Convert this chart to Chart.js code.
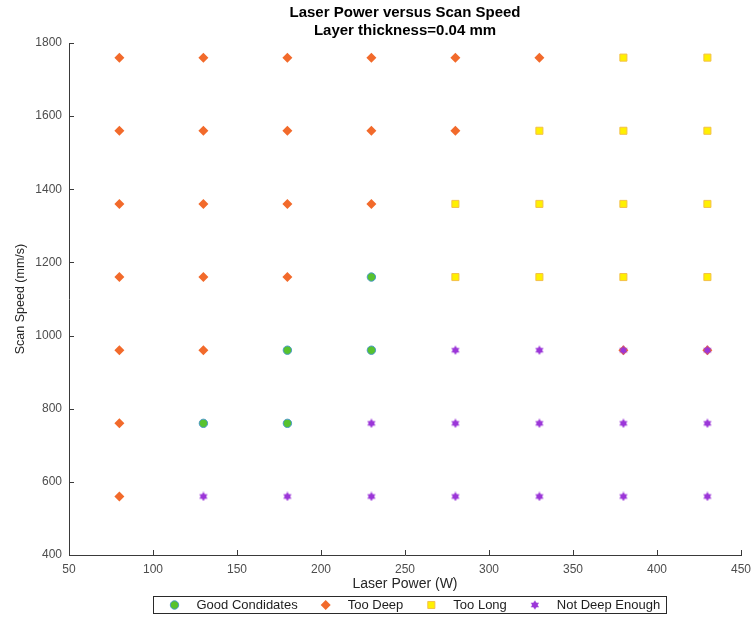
<!DOCTYPE html>
<html>
<head>
<meta charset="utf-8">
<script src="https://cdn.jsdelivr.net/npm/chart.js@4/dist/chart.umd.min.js"></script>
<style>
  html, body { margin: 0; padding: 0; background: #fff; }
  canvas { display: block; }
</style>
</head>
<body>
<canvas id="chart" width="752" height="617"></canvas>
<script>
// ---- chart data -------------------------------------------------------
const titleLines = ['Laser Power versus Scan Speed', 'Layer thickness=0.04 mm'];
const xTitle = 'Laser Power (W)';
const yTitle = 'Scan Speed (mm/s)';
const seriesNames = ['Good Condidates', 'Too Deep', 'Too Long', 'Not Deep Enough'];
const xRange = [50, 450];
const xStep = 50;
const yRange = [400, 1800];
const yStep = 200;

// each entry: [laser power (W), scan speed (mm/s)]
const goodCandidates = [
  [230, 1160], [180, 960], [230, 960], [130, 760], [180, 760]
];
const tooDeep = [
  [80, 1760], [130, 1760], [180, 1760], [230, 1760], [280, 1760], [330, 1760],
  [80, 1560], [130, 1560], [180, 1560], [230, 1560], [280, 1560],
  [80, 1360], [130, 1360], [180, 1360], [230, 1360],
  [80, 1160], [130, 1160], [180, 1160],
  [80, 960], [130, 960], [380, 960], [430, 960],
  [80, 760],
  [80, 560]
];
const tooLong = [
  [380, 1760], [430, 1760],
  [330, 1560], [380, 1560], [430, 1560],
  [280, 1360], [330, 1360], [380, 1360], [430, 1360],
  [280, 1160], [330, 1160], [380, 1160], [430, 1160]
];
const notDeepEnough = [
  [280, 960], [330, 960], [380, 960], [430, 960],
  [230, 760], [280, 760], [330, 760], [380, 760], [430, 760],
  [130, 560], [180, 560], [230, 560], [280, 560], [330, 560], [380, 560], [430, 560]
];

// ---- styling helpers --------------------------------------------------
const FONT = '"Liberation Sans", Arial, Helvetica, sans-serif';
const AXIS_COLOR = '#3a3a3a';

const toPoints = pairs => pairs.map(([x, y]) => ({ x, y }));
const plainNumber = v => String(v);

// filled six-pointed star used for the "Not Deep Enough" markers
function hexagram(size, fill) {
  const c = document.createElement('canvas');
  c.width = c.height = size;
  const g = c.getContext('2d');
  const cx = size / 2, cy = size / 2, R = size / 2 - 0.3;
  g.fillStyle = fill;
  for (let t = 0; t < 2; t++) {
    g.beginPath();
    for (let k = 0; k < 3; k++) {
      const a = -Math.PI / 2 + t * Math.PI + k * 2 * Math.PI / 3;
      const px = cx + R * Math.cos(a), py = cy + R * Math.sin(a);
      if (k === 0) g.moveTo(px, py); else g.lineTo(px, py);
    }
    g.closePath();
    g.fill();
  }
  return c;
}

const starMarker = hexagram(10, '#9b36d8');

// inward tick marks on the left and bottom axes
const innerTicks = {
  id: 'innerTicks',
  afterDatasetsDraw(chart) {
    const { ctx, chartArea: a, scales } = chart;
    const len = 5;
    ctx.save();
    ctx.strokeStyle = AXIS_COLOR;
    ctx.lineWidth = 1;
    ctx.beginPath();
    scales.x.ticks.forEach(t => {
      const px = Math.round(scales.x.getPixelForValue(t.value)) + 0.5;
      ctx.moveTo(px, a.bottom);
      ctx.lineTo(px, a.bottom - len);
    });
    scales.y.ticks.forEach(t => {
      const py = Math.round(scales.y.getPixelForValue(t.value)) + 0.5;
      ctx.moveTo(a.left, py);
      ctx.lineTo(a.left + len, py);
    });
    ctx.stroke();
    ctx.restore();
  }
};

// boxed horizontal legend under the axis title
const boxedLegend = {
  id: 'boxedLegend',
  afterDraw(chart) {
    const { ctx, chartArea: a } = chart;
    const datasets = chart.data.datasets;
    ctx.save();
    ctx.font = '13px ' + FONT;
    const widths = datasets.map(ds => ctx.measureText(ds.label).width);
    const lead = 21, gap = 22, sep = 28, tail = 6;
    const total = lead + widths.reduce((s, w) => s + gap + w, 0) + sep * (datasets.length - 1) + tail;
    const left = Math.round((a.left + a.right) / 2 - total / 2 + 4) + 0.5;
    const top = Math.round(chart.height - 21) + 0.5;
    const h = 17;
    ctx.strokeStyle = '#2a2a2a';
    ctx.lineWidth = 1;
    ctx.strokeRect(left, top, Math.round(total), h);

    const cy = top + h / 2;
    let x = left + lead;
    datasets.forEach((ds, i) => {
      ctx.save();
      ctx.fillStyle = ds.pointBackgroundColor;
      ctx.strokeStyle = ds.pointBorderColor;
      ctx.lineWidth = ds.pointBorderWidth;
      Chart.helpers.drawPoint(ctx, {
        pointStyle: ds.pointStyle,
        radius: ds.pointRadius,
        rotation: 0,
        borderWidth: ds.pointBorderWidth
      }, x, cy);
      ctx.restore();
      ctx.fillStyle = '#1e1e1e';
      ctx.textAlign = 'left';
      ctx.textBaseline = 'middle';
      ctx.fillText(ds.label, x + gap, cy + 0.5);
      x += gap + widths[i] + sep;
    });
    ctx.restore();
  }
};

// ---- chart ------------------------------------------------------------
new Chart(document.getElementById('chart'), {
  type: 'scatter',
  data: {
    datasets: [
      {
        label: seriesNames[0],
        data: toPoints(goodCandidates),
        order: 1,
        pointStyle: 'circle',
        pointRadius: 4.2,
        pointBackgroundColor: '#57c22e',
        pointBorderColor: '#4a98c8',
        pointBorderWidth: 1
      },
      {
        label: seriesNames[1],
        data: toPoints(tooDeep),
        order: 3,
        pointStyle: 'rectRot',
        pointRadius: 5,
        pointBackgroundColor: '#f26a2b',
        pointBorderColor: '#f26a2b',
        pointBorderWidth: 0
      },
      {
        label: seriesNames[2],
        data: toPoints(tooLong),
        order: 2,
        pointStyle: 'rect',
        pointRadius: 5,
        pointBackgroundColor: '#fff000',
        pointBorderColor: '#f3c04a',
        pointBorderWidth: 1
      },
      {
        label: seriesNames[3],
        data: toPoints(notDeepEnough),
        order: 0,
        pointStyle: starMarker,
        pointRadius: 5,
        pointBackgroundColor: '#9b36d8',
        pointBorderColor: '#9b36d8',
        pointBorderWidth: 0
      }
    ]
  },
  options: {
    responsive: false,
    animation: false,
    devicePixelRatio: 1,
    events: [],
    layout: { padding: { left: 0, right: 11, top: 0, bottom: 24 } },
    plugins: {
      legend: { display: false },
      tooltip: { enabled: false },
      title: {
        display: true,
        fullSize: false,
        text: titleLines,
        color: '#000',
        font: { family: FONT, size: 15, weight: 'bold', lineHeight: 1.25 },
        padding: { top: 3, bottom: 2.5 }
      }
    },
    scales: {
      x: {
        type: 'linear',
        position: 'bottom',
        min: xRange[0],
        max: xRange[1],
        ticks: {
          stepSize: xStep,
          callback: plainNumber,
          color: '#4d4d4d',
          font: { family: FONT, size: 12 },
          padding: 7,
          maxRotation: 0,
          autoSkip: false
        },
        grid: { display: false, drawTicks: false },
        border: { display: true, color: AXIS_COLOR, width: 1 },
        title: {
          display: true,
          text: xTitle,
          color: '#262626',
          font: { family: FONT, size: 14 },
          padding: { top: 0, bottom: 0 }
        },
        afterFit(scale) {
          scale.height = 38;
          scale.paddingLeft = 0;
          scale.paddingRight = 0;
        }
      },
      y: {
        type: 'linear',
        position: 'left',
        min: yRange[0],
        max: yRange[1],
        ticks: {
          stepSize: yStep,
          callback: plainNumber,
          color: '#4d4d4d',
          font: { family: FONT, size: 12 },
          padding: 7,
          autoSkip: false
        },
        grid: { display: false, drawTicks: false },
        border: { display: true, color: AXIS_COLOR, width: 1 },
        title: {
          display: true,
          text: yTitle,
          color: '#262626',
          font: { family: FONT, size: 12.5 },
          padding: { top: 13, bottom: 0 }
        },
        afterFit(scale) {
          scale.width = 69;
          scale.paddingTop = 0;
          scale.paddingBottom = 0;
        }
      }
    }
  },
  plugins: [innerTicks, boxedLegend]
});
</script>
</body>
</html>
